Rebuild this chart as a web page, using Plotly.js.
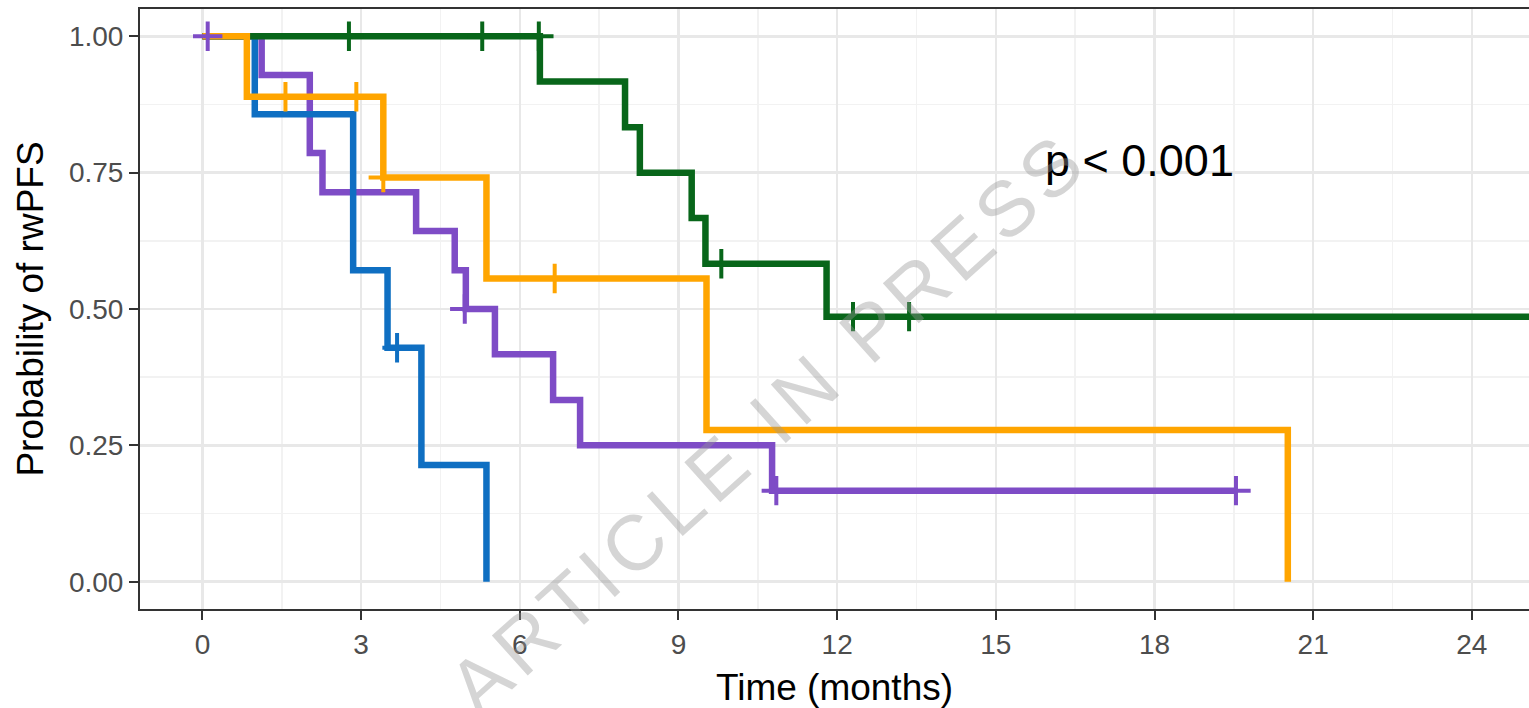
<!DOCTYPE html>
<html><head><meta charset="utf-8">
<script src="https://cdn.plot.ly/plotly-3.0.1.min.js"></script>
<style>html,body{margin:0;padding:0;background:#fff;} #chart{width:1529px;height:708px;}</style>
</head><body><div id="chart"></div>
<script>
// Kaplan-Meier step data (time in months, survival probability)
const blueTime = [0, 0.99, 2.85, 3.50, 4.14, 5.37];
const blueSurv = [1, 0.857, 0.571, 0.429, 0.214, 0];
const blueCensorTime = [3.68];
const blueCensorSurv = [0.429];

const purpleTime = [0, 1.12, 2.03, 2.27, 4.04, 4.77, 4.98, 5.53, 6.63, 7.14, 10.77, 19.54];
const purpleSurv = [1, 0.929, 0.786, 0.714, 0.643, 0.571, 0.5, 0.417, 0.333, 0.25, 0.167, 0.167];
const purpleCensorTime = [0.1, 4.96, 10.85, 19.54];
const purpleCensorSurv = [1, 0.5, 0.167, 0.167];

const greenTime = [0, 6.38, 7.99, 8.27, 9.25, 9.51, 11.80, 25.6];
const greenSurv = [1, 0.917, 0.833, 0.75, 0.667, 0.583, 0.486, 0.486];
const greenCensorTime = [2.77, 5.29, 6.36, 9.81, 12.30, 13.36];
const greenCensorSurv = [1, 1, 1, 0.583, 0.486, 0.486];

const orangeTime = [0, 0.84, 3.42, 5.37, 9.53, 20.52];
const orangeSurv = [1, 0.889, 0.741, 0.556, 0.278, 0];
const orangeCensorTime = [1.57, 2.91, 3.42, 6.66];
const orangeCensorSurv = [0.889, 0.889, 0.741, 0.556];

const xTicks = [0, 3, 6, 9, 12, 15, 18, 21, 24];
const yTicks = [0, 0.25, 0.5, 0.75, 1];
const yTickText = ['0.00', '0.25', '0.50', '0.75', '1.00'];

const COLORS = {blue:'#0F6FC2', purple:'#7E4CC6', green:'#08661A', orange:'#FFA500'};

function stepTrace(x, y, c){
  return {x:x, y:y, mode:'lines', type:'scatter', line:{shape:'hv', color:c, width:6.5}, hoverinfo:'skip', showlegend:false};
}
function censTrace(x, y, c){
  return {x:x, y:y, mode:'markers', type:'scatter', marker:{symbol:'cross-thin', size:21, line:{color:c, width:4}, color:c}, hoverinfo:'skip', showlegend:false};
}

const data = [
  stepTrace(purpleTime, purpleSurv, COLORS.purple),
  stepTrace(blueTime, blueSurv, COLORS.blue),
  stepTrace(greenTime, greenSurv, COLORS.green),
  stepTrace(orangeTime, orangeSurv, COLORS.orange),
  censTrace(blueCensorTime, blueCensorSurv, COLORS.blue),
  censTrace(purpleCensorTime, purpleCensorSurv, COLORS.purple),
  censTrace(greenCensorTime, greenCensorSurv, COLORS.green),
  censTrace(orangeCensorTime, orangeCensorSurv, COLORS.orange)
];

const FONT = '"Liberation Sans", Arial, Helvetica, sans-serif';

const layout = {
  width:1529, height:708,
  margin:{l:140, r:0, t:9, b:99},
  paper_bgcolor:'#fff', plot_bgcolor:'#fff',
  font:{family:FONT},
  xaxis:{
    range:[-1.18, 25.08], tickvals:xTicks, ticktext:xTicks.map(String),
    ticks:'outside', ticklen:9, tickwidth:2, tickcolor:'#333',
    tickfont:{size:28, color:'#4D4D4D'},
    showline:true, linecolor:'#333', linewidth:2, mirror:true,
    showgrid:true, gridcolor:'#E8E8E8', gridwidth:2.5, zeroline:false,
    minor:{dtick:1.5, tick0:0, showgrid:true, gridcolor:'#F2F2F2', gridwidth:1.6},
    title:{text:'Time (months)', font:{size:37, color:'#000'}, standoff:18},
    fixedrange:true
  },
  yaxis:{
    range:[-0.05, 1.05], tickvals:yTicks, ticktext:yTickText,
    ticks:'outside', ticklen:9, tickwidth:2, tickcolor:'#333',
    tickfont:{size:28, color:'#4D4D4D'},
    showline:true, linecolor:'#333', linewidth:2, mirror:false,
    showgrid:true, gridcolor:'#E8E8E8', gridwidth:2.5, zeroline:false,
    minor:{dtick:0.125, tick0:0, showgrid:true, gridcolor:'#F2F2F2', gridwidth:1.6},
    title:{text:'Probability of rwPFS', font:{size:37, color:'#000'}, standoff:14},
    fixedrange:true
  },
  annotations:[
    {x:15.9, y:0.772, xref:'x', yref:'y', xanchor:'left', yanchor:'middle', showarrow:false,
     text:'p < 0.001', font:{size:45, color:'#000', family:FONT}},
    {x:0.452, y:0.31, xref:'paper', yref:'paper', xanchor:'center', yanchor:'middle', showarrow:false,
     textangle:-42, text:'<span style="letter-spacing:7px">ARTICLE IN PRESS</span>',
     font:{size:78, color:'rgba(150,150,150,0.40)', family:FONT}}
  ]
};

Plotly.newPlot('chart', data, layout, {displayModeBar:false, staticPlot:true});
</script></body></html>
